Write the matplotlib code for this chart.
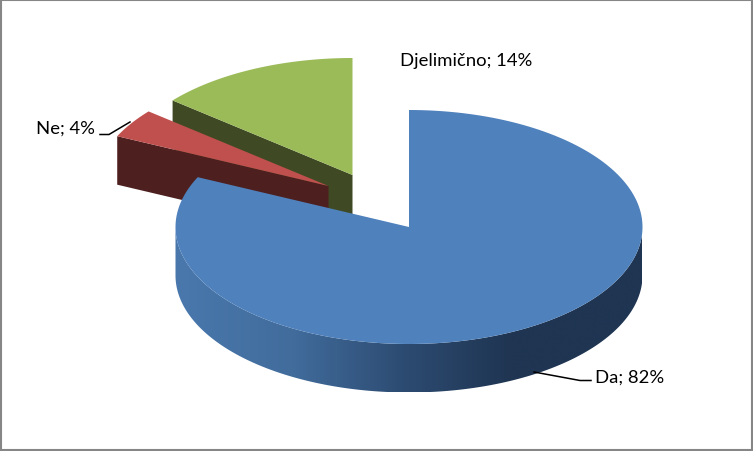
import numpy as np
import matplotlib
matplotlib.use("Agg")
import matplotlib.pyplot as plt
from matplotlib.patches import Polygon, Rectangle
from matplotlib.colors import LinearSegmentedColormap

categories = ["Da", "Ne", "Djelimično"]
values = [82, 4, 14]
tops = ["#4f81bd", "#c0504d", "#9bbb59"]
sides = ["#1f3552", "#4d1f1f", "#3f4a24"]
labels = [f"{c}; {v}%" for c, v in zip(categories, values)]

W, H = 753, 452
RX, RY, DEPTH = 233.5, 117, 48.5
CENTRES = [(409, 228), (328.5, 187), (352.5, 176)]

fig = plt.figure(figsize=(W / 100, H / 100), dpi=100)
ax = fig.add_axes([0, 0, 1, 1])
ax.set_xlim(0, W)
ax.set_ylim(H, 0)
ax.axis("off")
ax.add_patch(Rectangle((1, 1), W - 2, H - 2, fill=False, ec="#868686", lw=1.5, clip_on=False))

starts = 90 - 3.6 * np.concatenate([[0], np.cumsum(values)[:-1]])
ends = starts - 3.6 * np.array(values)


def arc(c, a0, a1, n=200, dy=0):
    t = np.radians(np.linspace(a0, a1, n))
    return np.column_stack([c[0] + RX * np.cos(t), c[1] - RY * np.sin(t) + dy])


def top_poly(i):
    c = CENTRES[i]
    return np.vstack([[c], arc(c, starts[i], ends[i])])


def cut_face(c, angle):
    p = arc(c, angle, angle, 1)[0]
    return np.array([c, p, (p[0], p[1] + DEPTH), (c[0], c[1] + DEPTH)])


# Djelimično, then Ne, then Da: painter's order back to front
for i in (2, 1):
    c = CENTRES[i]
    z = 2 + (2 - i) * 2
    ax.add_patch(Polygon(cut_face(c, starts[i]), fc=sides[i], ec="none", zorder=z))
    ax.add_patch(Polygon(top_poly(i), fc=tops[i], ec="none", zorder=z + 1))

# Da: outer rim with left-to-right shading
c = CENTRES[0]
rim = np.vstack([arc(c, 180, 360), arc(c, 360, 180, dy=DEPTH)])
clip = Polygon(rim, fc="none", ec="none", transform=ax.transData, zorder=6)
ax.add_patch(clip)
cmap = LinearSegmentedColormap.from_list(
    "rim", [(0, "#4a78ad"), (0.25, "#416c9c"), (0.5, "#2c4a70"), (0.72, "#1f3552"), (1, "#1f3552")]
)
im = ax.imshow(np.linspace(0, 1, 256)[None, :], cmap=cmap, aspect="auto", zorder=6,
               extent=(c[0] - RX, c[0] + RX, c[1] + RY + DEPTH, c[1]))
im.set_clip_path(clip)
ax.set_xlim(0, W)
ax.set_ylim(H, 0)
ax.add_patch(Polygon(top_poly(0), fc=tops[0], ec="none", zorder=7))

font = dict(family="Lato", size=13.3, color="black", zorder=9, va="center")
ax.text(595, 378, labels[0], ha="left", **font)
ax.text(36, 129, labels[1], ha="left", **font)
ax.text(400, 61, labels[2], ha="left", **font)
ax.plot([534, 580, 591], [373, 381.5, 381.5], color="black", lw=1.1, zorder=8)
ax.plot([100, 109, 130], [135.5, 135.5, 123], color="black", lw=1.1, zorder=8)

fig.savefig("out.png", dpi=100)
